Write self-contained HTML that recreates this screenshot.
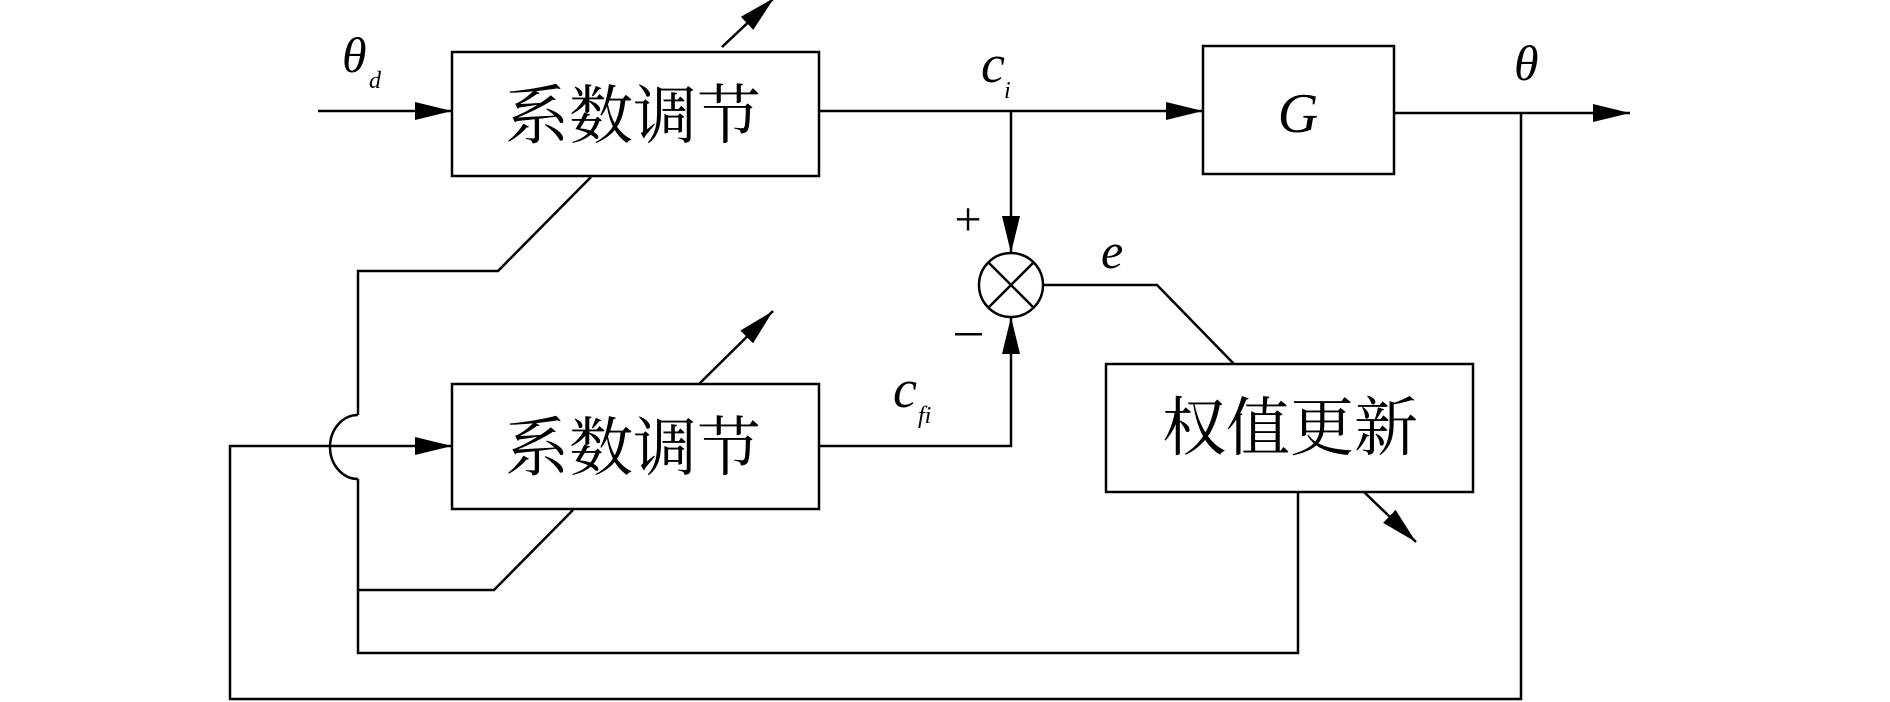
<!DOCTYPE html>
<html><head><meta charset="utf-8"><style>
html,body{margin:0;padding:0;background:#fff;}
svg{display:block;}
.cn{font-family:"Liberation Serif","Noto Serif CJK SC",serif;font-size:64px;}
.it{font-family:"Liberation Serif",serif;font-style:italic;}
</style></head><body>
<svg width="1890" height="702" viewBox="0 0 1890 702" xmlns="http://www.w3.org/2000/svg">
<defs>
<marker id="a" markerWidth="38" markerHeight="18" refX="37" refY="9" orient="auto" markerUnits="userSpaceOnUse">
<path d="M0,0 L37,9 L0,18 Z" fill="#000"/>
</marker>
</defs>
<g fill="none" stroke="#000" stroke-width="2.5">
<!-- boxes -->
<rect x="452" y="52" width="367" height="124"/>
<rect x="452" y="384" width="367" height="125"/>
<rect x="1203" y="46" width="191" height="128"/>
<rect x="1106" y="364" width="367" height="128"/>
<ellipse cx="1011" cy="285" rx="32" ry="32"/>
<line x1="988" y1="262" x2="1034" y2="308"/>
<line x1="1034" y1="262" x2="988" y2="308"/>
<!-- input -->
<line x1="318" y1="111" x2="452" y2="111" marker-end="url(#a)"/>
<!-- box1 out to G -->
<line x1="819" y1="111" x2="1203" y2="111" marker-end="url(#a)"/>
<!-- junction down to circle -->
<line x1="1011" y1="111" x2="1011" y2="253" marker-end="url(#a)"/>
<!-- G output -->
<line x1="1394" y1="113" x2="1630" y2="113" marker-end="url(#a)"/>
<!-- box2 to circle -->
<polyline points="819,446 1011,446 1011,317" marker-end="url(#a)"/>
<!-- outer feedback -->
<polyline points="1521,113 1521,699 230,699 230,446 326,446"/>
<line x1="326" y1="446" x2="452" y2="446" marker-end="url(#a)"/>
<!-- box1 diag feedback -->
<polyline points="591,177 498,271 358,271 358,415"/>
<path d="M358,415 A28,32 0 0 0 358,479"/>
<polyline points="358,479 358,653 1298,653 1298,492"/>
<!-- box2 diag -->
<polyline points="573,510 494,590 358,590"/>
<!-- e line -->
<polyline points="1043,285 1157,285 1234,364"/>
<!-- adjustable arrows -->
<line x1="722" y1="47" x2="774" y2="-2" marker-end="url(#a)"/>
<line x1="699" y1="384" x2="773" y2="311" marker-end="url(#a)"/>
<line x1="1364" y1="492" x2="1416" y2="542" marker-end="url(#a)"/>
</g>
<g fill="#000">
<text class="cn" x="633" y="138" text-anchor="middle">系数调节</text>
<text class="cn" x="633" y="470" text-anchor="middle">系数调节</text>
<text class="cn" x="1290" y="450" text-anchor="middle">权值更新</text>
<text class="it" x="1298" y="132" font-size="56" text-anchor="middle">G</text>
<text class="it" x="342" y="72" font-size="50">θ</text>
<text class="it" x="369" y="88" font-size="24">d</text>
<text class="it" x="981" y="82" font-size="54">c</text>
<text class="it" x="1004" y="98" font-size="24">i</text>
<text class="it" x="893" y="407" font-size="54">c</text>
<text class="it" x="918" y="423" font-size="24">fi</text>
<text class="it" x="1101" y="268" font-size="50">e</text>
<text class="it" x="1514" y="80" font-size="50">θ</text>
<text x="968" y="235" font-family="Liberation Serif,serif" font-size="48" text-anchor="middle">+</text>
<rect x="955" y="333" width="27" height="2.5"/>
</g>
</svg>
</body></html>
